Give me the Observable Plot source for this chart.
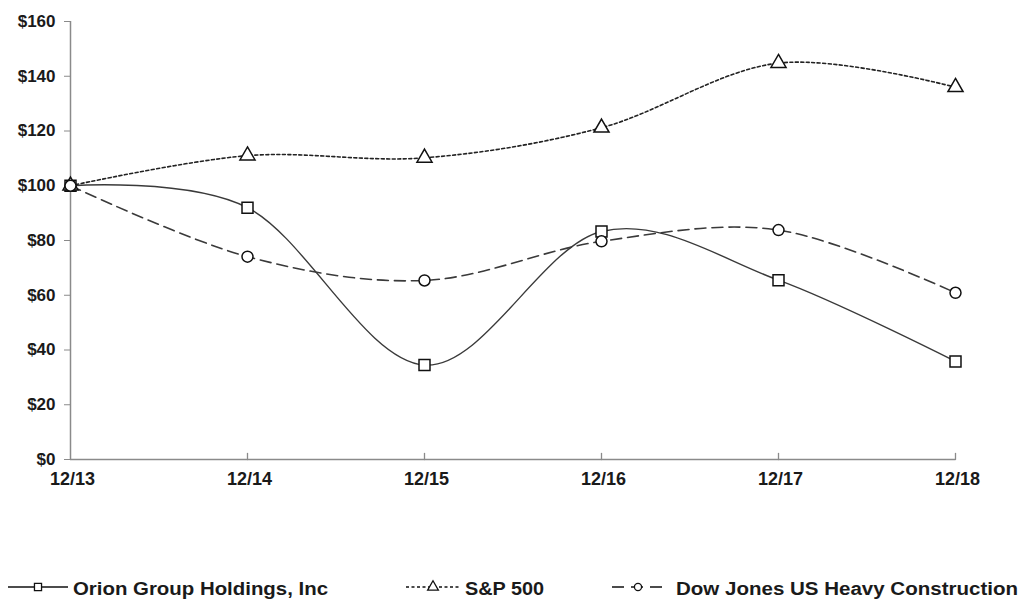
<!DOCTYPE html>
<html>
<head>
<meta charset="utf-8">
<script src="https://cdn.jsdelivr.net/npm/d3@7"></script>
<script src="https://cdn.jsdelivr.net/npm/@observablehq/plot@0.6"></script>
<style>
  html, body { margin: 0; padding: 0; background: #fff; }
  #chart svg { display: block; }
  #legend { display: block; }
</style>
</head>
<body>
<div id="chart"></div>
<svg id="legend" width="1021" height="99"></svg>
<script>
const periods = ["12/13", "12/14", "12/15", "12/16", "12/17", "12/18"];
const orion = [100, 92, 34.5, 83.3, 65.5, 35.8];
const sp500 = [100, 111, 110.2, 121.2, 144.8, 136];
const dowJones = [100, 74.1, 65.4, 79.7, 83.8, 60.9];
const yTicks = [0, 20, 40, 60, 80, 100, 120, 140, 160];
const seriesNames = ["Orion Group Holdings, Inc", "S&P 500", "Dow Jones US Heavy Construction"];

const seriesValues = [orion, sp500, dowJones];
const seriesStyle = [
  {stroke: "#3a3a3a", dash: null, width: 1.4, symbol: "square", r: 6.2},
  {stroke: "#222", dash: "3,2.5", width: 1.6, symbol: "triangle", r: 5.6},
  {stroke: "#3a3a3a", dash: "11,6", width: 1.6, symbol: "circle", r: 5.5}
];

const rows = seriesNames.flatMap((name, i) =>
  periods.map((p, j) => ({series: name, period: p, value: seriesValues[i][j]})));

const marks = [
  Plot.ruleY([0], {stroke: "#8a8a8a", strokeWidth: 1.5}),
  Plot.ruleX([periods[0]], {stroke: "#8a8a8a", strokeWidth: 1.5}),
  Plot.axisY({ticks: yTicks, tickFormat: d => "$" + d, tickSize: 6, tickPadding: 9, label: null,
    fontSize: 17, fontWeight: "bold", fontFamily: "Liberation Sans, Arial, sans-serif",
    stroke: "#8a8a8a", fill: "#1a1a1a"}),
  Plot.axisX({tickSize: 0, tickPadding: 13, fontSize: 18, fontWeight: "bold", label: null,
    fontFamily: "Liberation Sans, Arial, sans-serif", fill: "#1a1a1a", dx: 2}),
  Plot.vector(periods.slice(1), {x: d => d, y: () => 0, length: 6, rotate: 0, anchor: "start",
    stroke: "#8a8a8a", strokeWidth: 1.3,
    shape: {draw(c, l) { c.moveTo(0, 0); c.lineTo(0, -l); }}})
];

seriesNames.forEach((name, i) => {
  const st = seriesStyle[i];
  const data = rows.filter(d => d.series === name);
  marks.push(Plot.line(data, {x: "period", y: "value", curve: "cardinal",
    stroke: st.stroke, strokeWidth: st.width, strokeDasharray: st.dash}));
});
seriesNames.forEach((name, i) => {
  const st = seriesStyle[i];
  const data = rows.filter(d => d.series === name);
  marks.push(Plot.dot(data, {x: "period", y: "value", symbol: () => st.symbol, r: st.r,
    fill: "white", stroke: "#111", strokeWidth: 1.5}));
});

const chart = Plot.plot({
  width: 1021,
  height: 500,
  marginLeft: 70,
  marginRight: 66,
  marginTop: 21,
  marginBottom: 41,
  x: {type: "point", domain: periods, padding: 0, axis: null},
  y: {domain: [0, 160], axis: null},
  symbol: {type: "identity"},
  style: {background: "white", overflow: "visible"},
  marks
});
document.getElementById("chart").appendChild(chart);

// Legend
const lg = d3.select("#legend");
const legendItems = [
  {x1: 8, x2: 68, mx: 38, tx: 73, tw: 255},
  {x1: 406, x2: 460, mx: 433, tx: 465, tw: 79},
  {x1: 612, x2: 664, mx: 638, tx: 676, tw: 342}
];
const cy = 87;
seriesNames.forEach((name, i) => {
  const it = legendItems[i], st = seriesStyle[i];
  lg.append("line").attr("x1", it.x1).attr("x2", it.x2).attr("y1", cy).attr("y2", cy)
    .attr("stroke", "#111").attr("stroke-width", 1.5)
    .attr("stroke-dasharray", i === 2 ? "12,7" : (st.dash || null));
  const sym = d3.symbol().type(st.symbol === "square" ? d3.symbolSquare : st.symbol === "triangle" ? d3.symbolTriangle : d3.symbolCircle)
    .size(i === 2 ? 40 : 50);
  lg.append("path").attr("d", sym()).attr("transform", `translate(${it.mx},${cy})`)
    .attr("fill", "white").attr("stroke", "#111").attr("stroke-width", 1.3);
  lg.append("text").attr("x", it.tx).attr("y", cy + 8)
    .attr("font-family", "Liberation Sans Narrow, Liberation Sans, Arial, sans-serif")
    .attr("font-weight", "bold").attr("font-size", 18).attr("fill", "#1a1a1a")
    .attr("textLength", it.tw).attr("lengthAdjust", "spacingAndGlyphs")
    .text(name);
});
</script>
</body>
</html>
